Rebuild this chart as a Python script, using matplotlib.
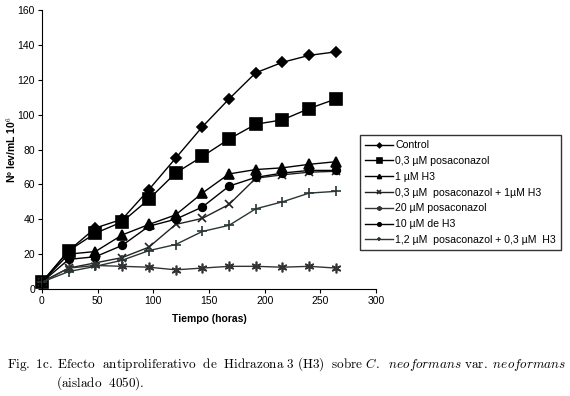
import matplotlib
matplotlib.use("Agg")
import matplotlib.pyplot as plt

matplotlib.rcParams['font.family'] = ['Liberation Sans', 'DejaVu Sans']
matplotlib.rcParams['mathtext.fontset'] = 'cm'

# tiempo (horas)
horas = [0, 24, 48, 72, 96, 120, 144, 168, 192, 216, 240, 264]

control = [4, 22, 35, 40, 57, 75, 93, 109, 124, 130, 134, 136]
posa_03 = [4, 22, 32, 38.5, 51.5, 66.5, 76, 86, 94.5, 97, 103.5, 109]
h3_1 = [4, 20, 21.5, 31, 37, 42.5, 55, 66, 68.5, 69.5, 71.5, 73]
posa_03_h3_1 = [4, 12, 15, 18, 24, 37, 40.5, 48.5, 63.5, 65.5, 67, 67.5]
posa_20 = [4, 12, 13.5, 13, 12.5, 11, 12, 13, 13, 12.5, 13, 12]
h3_10 = [4, 17, 18.5, 25, 36, 40, 47, 59, 64, 66.5, 68, 68]
posa_12_h3_03 = [4, 10, 13, 16.5, 22, 25.5, 33, 36.5, 46, 50, 55, 56]

series = [
    ('Control', control, 'D', 5, 'black'),
    ('0,3 µM posaconazol', posa_03, 's', 8, 'black'),
    ('1 µM H3', h3_1, '^', 6.5, 'black'),
    ('0,3 µM  posaconazol + 1µM H3', posa_03_h3_1, 'x', 6, '#222222'),
    ('20 µM posaconazol', posa_20, (6, 2, 0), 7, '#333333'),
    ('10 µM de H3', h3_10, 'o', 5.5, 'black'),
    ('1,2 µM  posaconazol + 0,3 µM  H3', posa_12_h3_03, '+', 7.5, '#2a3535'),
]

fig = plt.figure(figsize=(5.7, 3.96), dpi=100)
ax = fig.add_axes([42 / 570, 1 - 289 / 396, 334 / 570, 279 / 396])

for label, vals, mk, ms, col in series:
    ax.plot(horas, vals, color=col, lw=1.0, marker=mk, markersize=ms,
            markeredgewidth=1.2, label=label, clip_on=False)

ax.set_xlim(0, 300)
ax.set_ylim(0, 160)
ax.set_xticks(range(0, 301, 50))
ax.set_yticks(range(0, 161, 20))
ax.spines['top'].set_visible(False)
ax.spines['right'].set_visible(False)
ax.tick_params(labelsize=7.5, length=3, width=0.8, pad=2)
ax.set_xlabel('Tiempo (horas)', fontsize=7.5, fontweight='bold', labelpad=6)
ax.set_ylabel('Nº lev/mL 10$^{\\mathbf{6}}$', fontsize=7.5, fontweight='bold')
ax.yaxis.set_label_coords(-24 / 334, 0.5)

leg = fig.legend(loc='upper left', bbox_to_anchor=(360 / 570, 1 - 135 / 396),
                 fontsize=7.6, frameon=True, fancybox=False, edgecolor='black',
                 handlelength=2.6, markerscale=0.45, labelspacing=0.55,
                 borderpad=0.5, handletextpad=0.25, borderaxespad=0)
leg.get_frame().set_linewidth(1.0)

fig.text(7 / 570, 1 - 364 / 396,
         r'$\mathrm{Fig.\ 1c.\ Efecto\ \ antiproliferativo\ \ de\ \ Hidrazona\ 3\ (H3)\ \ sobre}'
         r'\ \mathit{C.\ \ neoformans}\ \mathrm{var.}\ \mathit{neoformans}$',
         fontsize=9.5, va='center', ha='left')
fig.text(56 / 570, 1 - 383 / 396, r'$\mathrm{(aislado\ \ 4050).}$',
         fontsize=9.5, va='center', ha='left')

fig.savefig('out.png', dpi=100)
